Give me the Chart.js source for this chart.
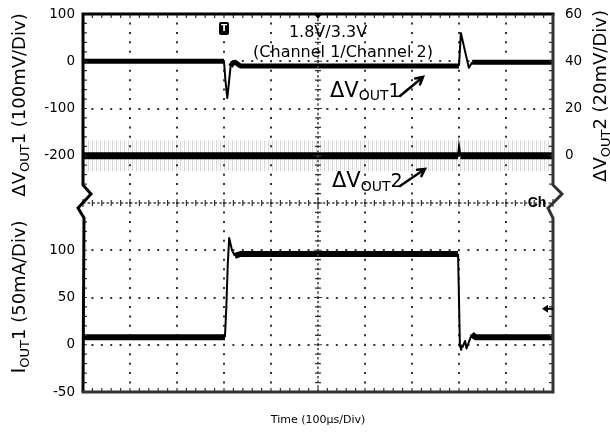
<!DOCTYPE html>
<html><head><meta charset="utf-8">
<script src="https://cdn.jsdelivr.net/npm/chart.js@4.4.1/dist/chart.umd.min.js"></script>
<style>html,body{margin:0;padding:0;background:#fff;}#wrap{width:610px;height:439px;position:relative;}</style>
</head><body><div id="wrap"><canvas id="c" width="610" height="439"></canvas></div>
<script>
// ---- data (time in µs, 100 µs/div) ----
const vout1Time = [0, 300, 303, 307, 310, 314, 318, 323, 335, 797, 800, 804, 812, 821, 828, 1000];
const vout1Mv   = [0, 0, -40, -78, -50, -11, -4, -2, -10, -10, -10, 60, 25, -14, -2, -2];
const vout2Time = [0, 798, 800, 803, 1000];
const vout2Mv   = [0, 0, 4, 0, 0];
const vout2NoiseTime = [0, 1000];
const vout2NoiseHigh = [6.5, 6.5];
const vout2NoiseLow  = [-6.5, -6.5];
const iout1Time = [0, 302, 305, 308, 311, 317, 323, 335, 798, 802, 807, 813, 816, 827, 835, 1000];
const iout1Ma   = [8, 8, 40, 85, 113, 100, 94, 96, 96, -3, -3, 4, -4, 11, 8, 8];
// tick labels (bottom to top)
const leftTickLabels  = ['-50', '0', '50', '100', '', '-200', '-100', '0', '100'];
const rightTickLabels = ['0', '20', '40', '60'];
const timeTitle = 'Time (100\u00b5s/Div)';

const FAM = 'DejaVu Sans, Liberation Sans, Arial, sans-serif';
const toXY = (xs, ys) => xs.map((x, i) => ({x: x, y: ys[i]}));
const segW = w => ({borderWidth: c => Math.abs(c.p1.y - c.p0.y) > 5 ? 2 : w});

// streaky texture for the noise envelope
const pc = document.createElement('canvas'); pc.width = 4; pc.height = 1;
const pctx = pc.getContext('2d');
pctx.fillStyle = 'rgba(0,0,0,0.16)'; pctx.fillRect(0, 0, 1, 1);
pctx.fillStyle = 'rgba(0,0,0,0.06)'; pctx.fillRect(2, 0, 1, 1);
const noiseFill = pctx.createPattern(pc, 'repeat');

function drawRich(ctx, x, y, parts, rot, align) {
  ctx.save();
  ctx.translate(x, y);
  if (rot) ctx.rotate(rot);
  let total = 0;
  parts.forEach(p => { ctx.font = p.font; p.w = ctx.measureText(p.text).width; total += p.w; });
  let cur = align === 'center' ? -total / 2 : 0;
  ctx.textAlign = 'left'; ctx.textBaseline = 'alphabetic'; ctx.fillStyle = '#000';
  parts.forEach(p => { ctx.font = p.font; ctx.fillText(p.text, cur, p.dy || 0); cur += p.w; });
  ctx.restore();
}
function arrow(ctx, x1, y1, x2, y2) {
  const a = Math.atan2(y2 - y1, x2 - x1), h = 8;
  ctx.beginPath();
  ctx.moveTo(x1, y1); ctx.lineTo(x2, y2);
  ctx.moveTo(x2 - h * Math.cos(a - 0.5), y2 - h * Math.sin(a - 0.5));
  ctx.lineTo(x2, y2);
  ctx.lineTo(x2 - h * Math.cos(a + 0.5), y2 - h * Math.sin(a + 0.5));
  ctx.stroke();
}

const decor = {
  id: 'scopeDecor',
  afterDraw(chart) {
    const {ctx, chartArea: a, scales} = chart;
    const xs = scales.x, yI = scales.yI;
    const cx = xs.getPixelForValue(500), cy = yI.getPixelForValue(150);
    ctx.save();
    ctx.lineCap = 'butt';
    // centre cross lines
    ctx.strokeStyle = '#444'; ctx.lineWidth = 1.5; ctx.setLineDash([2.5, 2.2]);
    ctx.beginPath(); ctx.moveTo(a.left, cy); ctx.lineTo(a.right, cy);
    ctx.moveTo(cx, a.top); ctx.lineTo(cx, a.bottom); ctx.stroke();
    ctx.setLineDash([]);
    ctx.beginPath();
    for (let k = 0; k <= 50; k++) {
      const x = xs.getPixelForValue(k * 20), L = k % 5 === 0 ? 4 : 3;
      ctx.moveTo(x, cy - L); ctx.lineTo(x, cy + L);
      ctx.moveTo(x, a.top); ctx.lineTo(x, a.top + 4);
      ctx.moveTo(x, a.bottom); ctx.lineTo(x, a.bottom - 4);
    }
    for (let k = 0; k <= 40; k++) {
      const y = yI.getPixelForValue(-50 + k * 10), L = k % 5 === 0 ? 4 : 3;
      ctx.moveTo(cx - L, y); ctx.lineTo(cx + L, y);
      if (Math.abs(y - cy) > 18) {
        ctx.moveTo(a.left, y); ctx.lineTo(a.left + 4, y);
        ctx.moveTo(a.right, y); ctx.lineTo(a.right - 4, y);
      }
    }
    ctx.lineWidth = 1.2; ctx.strokeStyle = '#333'; ctx.stroke();
    // frame
    ctx.lineJoin = 'miter';
    ctx.lineWidth = 3;
    ctx.strokeStyle = '#000';
    ctx.beginPath();
    ctx.moveTo(a.right + 1.5, a.top); ctx.lineTo(a.left, a.top);
    ctx.lineTo(a.left, cy - 18); ctx.lineTo(a.left + 8, cy - 9); ctx.lineTo(a.left - 5, cy + 5);
    ctx.lineTo(a.left + 1, cy + 15); ctx.lineTo(a.left, a.bottom);
    ctx.stroke();
    ctx.strokeStyle = '#333';
    ctx.beginPath();
    ctx.moveTo(a.left - 1.5, a.bottom); ctx.lineTo(a.right, a.bottom);
    ctx.lineTo(a.right, cy + 15); ctx.lineTo(a.right - 5, cy + 5); ctx.lineTo(a.right + 9, cy - 9);
    ctx.lineTo(a.right, cy - 18); ctx.lineTo(a.right, a.top);
    ctx.stroke();
    // top centre marker
    ctx.fillStyle = '#000';
    ctx.beginPath(); ctx.moveTo(cx - 4, a.top); ctx.lineTo(cx + 4, a.top); ctx.lineTo(cx, a.top + 5); ctx.fill();
    // trigger marker
    const tx = xs.getPixelForValue(300);
    ctx.beginPath(); ctx.roundRect(tx - 5, a.top + 8, 10, 13, 2); ctx.fill();
    ctx.fillStyle = '#fff'; ctx.font = 'bold 9px ' + FAM; ctx.textAlign = 'center'; ctx.textBaseline = 'middle';
    ctx.fillText('T', tx, a.top + 14.5);
    // ground marker on right
    const gy = yI.getPixelForValue(38);
    ctx.fillStyle = '#000'; ctx.strokeStyle = '#000'; ctx.lineWidth = 2;
    ctx.beginPath(); ctx.moveTo(a.right - 11, gy); ctx.lineTo(a.right - 5, gy - 4); ctx.lineTo(a.right - 5, gy + 4); ctx.fill();
    ctx.beginPath(); ctx.moveTo(a.right - 6, gy); ctx.lineTo(a.right, gy); ctx.stroke();
    // "Ch"
    ctx.font = 'bold 14px Liberation Sans, Arial, sans-serif'; ctx.textAlign = 'center'; ctx.textBaseline = 'middle';
    ctx.fillText('Ch', a.right - 16, cy);
    // annotations
    ctx.font = '16px ' + FAM; ctx.textBaseline = 'alphabetic';
    ctx.fillText('1.8V/3.3V', 328, 37);
    ctx.fillText('(Channel 1/Channel 2)', 343, 57);
    const big = '21px ' + FAM, sub = '14px ' + FAM, one = '19px ' + FAM;
    drawRich(ctx, 330, 97, [{text: '\u0394V', font: big}, {text: 'OUT', font: sub, dy: 3}, {text: '1', font: one}], 0, 'left');
    drawRich(ctx, 332, 187, [{text: '\u0394V', font: big}, {text: 'OUT', font: sub, dy: 4}, {text: '2', font: one}], 0, 'left');
    ctx.lineWidth = 2.5; ctx.strokeStyle = '#000'; ctx.lineCap = 'round';
    arrow(ctx, 400, 96, 423, 77);
    arrow(ctx, 400, 186, 425, 169);
    // axis titles (rotated, with subscripts)
    const tf = '18px ' + FAM, ts = '13px ' + FAM;
    drawRich(ctx, 25, 105, [{text: '\u0394V', font: tf}, {text: 'OUT', font: ts, dy: 4}, {text: '1 (100mV/Div)', font: tf}], -Math.PI / 2, 'center');
    drawRich(ctx, 25, 297, [{text: 'I', font: '20px ' + FAM}, {text: 'OUT', font: ts, dy: 4}, {text: '1 (50mA/Div)', font: tf}], -Math.PI / 2, 'center');
    drawRich(ctx, 606, 96, [{text: '\u0394V', font: tf}, {text: 'OUT', font: ts, dy: 4}, {text: '2 (20mV/Div)', font: tf}], -Math.PI / 2, 'center');
    ctx.restore();
  }
};

const gridColor = edges => c => (c.tick && edges.includes(c.tick.value)) ? 'rgba(0,0,0,0)' : '#333';

new Chart(document.getElementById('c'), {
  type: 'line',
  data: {
    datasets: [
      {label: 'noiseHigh', data: toXY(vout2NoiseTime, vout2NoiseHigh), yAxisID: 'yV2', borderWidth: 0, pointRadius: 0, fill: '+1', backgroundColor: noiseFill, order: 5, clip: 0},
      {label: 'noiseLow', data: toXY(vout2NoiseTime, vout2NoiseLow), yAxisID: 'yV2', borderWidth: 0, pointRadius: 0, fill: false, order: 5, clip: 0},
      {label: '\u0394VOUT2', data: toXY(vout2Time, vout2Mv), yAxisID: 'yV2', borderColor: '#000', borderWidth: 7, pointRadius: 0, tension: 0, fill: false, order: 1, clip: 0, segment: segW(7)},
      {label: '\u0394VOUT1', data: toXY(vout1Time, vout1Mv), yAxisID: 'yV1', borderColor: '#000', borderWidth: 5, pointRadius: 0, tension: 0, fill: false, order: 1, clip: 0, segment: segW(5), borderJoinStyle: 'round'},
      {label: 'IOUT1', data: toXY(iout1Time, iout1Ma), yAxisID: 'yI', borderColor: '#000', borderWidth: 6, pointRadius: 0, tension: 0, fill: false, order: 1, clip: 0, segment: segW(6), borderJoinStyle: 'round'}
    ]
  },
  options: {
    responsive: false, animation: false, devicePixelRatio: 1,
    layout: {padding: {top: 14, left: 0, right: 0, bottom: 0}},
    plugins: {legend: {display: false}, tooltip: {enabled: false}},
    scales: {
      x: {
        type: 'linear', position: 'bottom', min: 0, max: 1000,
        ticks: {display: false, stepSize: 100},
        grid: {color: gridColor([0, 500, 1000]), lineWidth: 2, drawTicks: false},
        border: {display: false, dash: [2, 7.45], dashOffset: 1},
        title: {display: true, text: timeTitle, color: '#000', font: {family: FAM, size: 11}, padding: {top: 0, bottom: 12}},
        afterFit: s => { s.height = 47; }
      },
      yI: {
        type: 'linear', position: 'left', min: -50, max: 350,
        ticks: {stepSize: 50, callback: (v, i) => leftTickLabels[i], color: '#000', font: {family: FAM, size: 13.5}, padding: 4},
        grid: {color: gridColor([-50, 150, 350]), lineWidth: 2, drawTicks: true, tickLength: 4, tickColor: 'rgba(0,0,0,0)'},
        border: {display: false, dash: [2, 7.4], dashOffset: 1},
        afterFit: s => { s.width = 83; }
      },
      yV1: {type: 'linear', display: false, min: -700, max: 100},
      yV2: {
        type: 'linear', position: 'right', min: -100, max: 60,
        ticks: {stepSize: 20, callback: (v, i) => (i >= 5 ? rightTickLabels[i - 5] : ''), color: '#000', font: {family: FAM, size: 13.5}, padding: 4},
        grid: {drawOnChartArea: false, drawTicks: true, tickLength: 8, tickColor: 'rgba(0,0,0,0)'},
        border: {display: false},
        afterFit: s => { s.width = 57; }
      }
    }
  },
  plugins: [decor]
});
</script></body></html>
